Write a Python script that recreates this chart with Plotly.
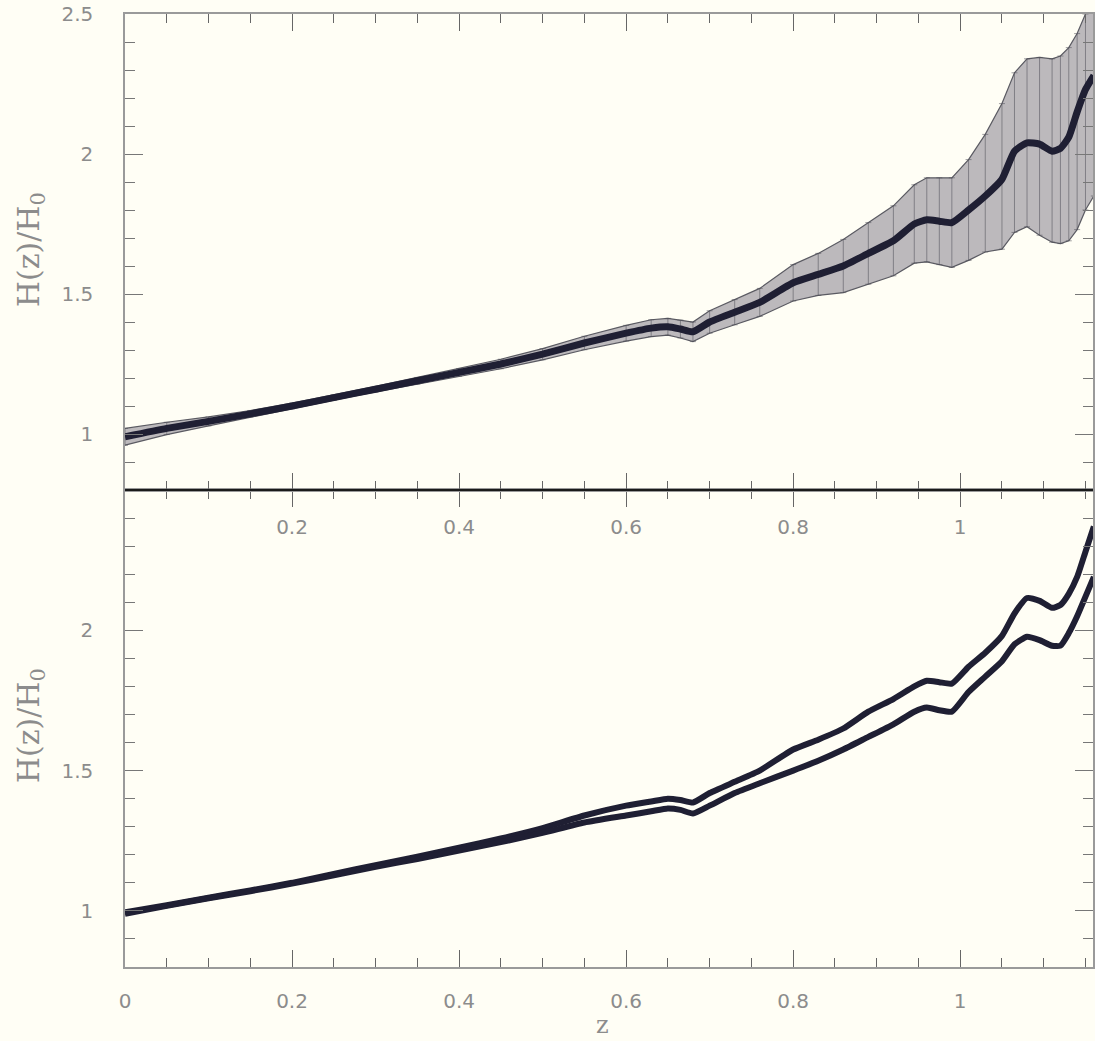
import plotly.graph_objects as go

# ---------------- data ----------------
z = [0.00, 0.05, 0.10, 0.15, 0.20, 0.25, 0.30, 0.35, 0.40, 0.45, 0.50, 0.55,
     0.60, 0.63, 0.65, 0.665, 0.68, 0.70, 0.73, 0.76, 0.80, 0.83, 0.86, 0.89,
     0.92, 0.945, 0.96, 0.975, 0.99, 1.01, 1.03, 1.05, 1.065, 1.08, 1.095,
     1.11, 1.12, 1.13, 1.14, 1.15, 1.16]

# top panel: reconstructed H(z)/H0 with error bars
h_top = [0.99, 1.02, 1.045, 1.072, 1.10, 1.13, 1.16, 1.19, 1.22, 1.25, 1.285, 1.325,
         1.36, 1.378, 1.383, 1.375, 1.365, 1.40, 1.435, 1.47, 1.54, 1.57, 1.60, 1.645,
         1.69, 1.75, 1.765, 1.76, 1.755, 1.80, 1.85, 1.91, 2.01, 2.04, 2.035,
         2.01, 2.02, 2.06, 2.15, 2.23, 2.28]
err_plus = [0.03, 0.022, 0.016, 0.012, 0.01, 0.009, 0.01, 0.012, 0.014, 0.017, 0.02, 0.024,
            0.028, 0.03, 0.03, 0.032, 0.035, 0.04, 0.045, 0.05, 0.065, 0.075, 0.095, 0.11,
            0.125, 0.14, 0.15, 0.155, 0.16, 0.18, 0.22, 0.27, 0.28, 0.30, 0.31,
            0.33, 0.33, 0.32, 0.28, 0.27, 0.28]
err_minus = [0.03, 0.022, 0.016, 0.012, 0.01, 0.009, 0.01, 0.012, 0.014, 0.017, 0.02, 0.024,
             0.028, 0.03, 0.03, 0.032, 0.035, 0.04, 0.045, 0.05, 0.065, 0.075, 0.095, 0.11,
             0.125, 0.14, 0.15, 0.155, 0.16, 0.18, 0.20, 0.25, 0.29, 0.30, 0.325,
             0.325, 0.34, 0.37, 0.42, 0.43, 0.43]

# bottom panel: two reconstructions
h_bot_a = [0.995, 1.02, 1.047, 1.073, 1.10, 1.132, 1.163, 1.193, 1.225, 1.258, 1.295, 1.34,
           1.375, 1.39, 1.40, 1.395, 1.386, 1.42, 1.46, 1.50, 1.575, 1.61, 1.65, 1.71,
           1.755, 1.80, 1.82, 1.815, 1.81, 1.87, 1.92, 1.98, 2.06, 2.115, 2.105,
           2.08, 2.09, 2.13, 2.19, 2.28, 2.37]
h_bot_b = [0.99, 1.018, 1.045, 1.07, 1.097, 1.127, 1.157, 1.185, 1.215, 1.245, 1.278, 1.315,
           1.34, 1.355, 1.365, 1.36, 1.347, 1.375, 1.42, 1.455, 1.50, 1.535, 1.575, 1.62,
           1.665, 1.71, 1.725, 1.715, 1.71, 1.78, 1.835, 1.89, 1.95, 1.977, 1.965,
           1.945, 1.945, 1.99, 2.05, 2.12, 2.19]

x_tickvals = [0, 0.2, 0.4, 0.6, 0.8, 1.0]
x_ticktext = ["0", "0.2", "0.4", "0.6", "0.8", "1"]
y_tickvals_top = [1, 1.5, 2, 2.5]
y_ticktext_top = ["1", "1.5", "2", "2.5"]
y_tickvals_bot = [1, 1.5, 2]
y_ticktext_bot = ["1", "1.5", "2"]
y_title = "H(z)/H<sub>0</sub>"
x_title = "z"

# ---------------- styling ----------------
BG = "#fffef5"
AX = "#9a9a9a"
TXT = "#8c8c8c"
CURVE = "#1f1f33"
tick_font = dict(family="DejaVu Sans", size=20, color=TXT)

upper = [h + e for h, e in zip(h_top, err_plus)]
lower = [h - e for h, e in zip(h_top, err_minus)]

fig = go.Figure()

# error band (top panel)
fig.add_trace(go.Scatter(x=z, y=lower, xaxis="x2", yaxis="y2", mode="lines",
                         line=dict(color="#5a5a62", width=1.2), showlegend=False,
                         hoverinfo="skip"))
fig.add_trace(go.Scatter(x=z, y=upper, xaxis="x2", yaxis="y2", mode="lines",
                         line=dict(color="#5a5a62", width=1.2), fill="tonexty",
                         fillcolor="rgba(165,162,168,0.75)", showlegend=False,
                         hoverinfo="skip"))
# vertical error bars
fig.add_trace(go.Scatter(x=z, y=h_top, xaxis="x2", yaxis="y2", mode="markers",
                         marker=dict(size=1, color="rgba(0,0,0,0)"),
                         error_y=dict(type="data", symmetric=False, array=err_plus,
                                      arrayminus=err_minus, color="rgba(80,80,90,0.55)",
                                      thickness=1, width=3),
                         showlegend=False, hoverinfo="skip"))
# central curve
fig.add_trace(go.Scatter(x=z, y=h_top, xaxis="x2", yaxis="y2", mode="lines",
                         line=dict(color=CURVE, width=7, shape="spline", smoothing=0.5),
                         showlegend=False))

# bottom panel curves
fig.add_trace(go.Scatter(x=z, y=h_bot_a, xaxis="x", yaxis="y", mode="lines",
                         line=dict(color=CURVE, width=6, shape="spline", smoothing=0.5),
                         showlegend=False))
fig.add_trace(go.Scatter(x=z, y=h_bot_b, xaxis="x", yaxis="y", mode="lines",
                         line=dict(color=CURVE, width=6, shape="spline", smoothing=0.5),
                         showlegend=False))

split = 477 / 953

common_x = dict(range=[0, 1.159], showgrid=False, zeroline=False, showline=True,
                linecolor=AX, linewidth=1.5, ticks="inside", tickcolor="#666",
                tickwidth=1.2, ticklen=17, mirror="ticks",
                minor=dict(dtick=0.05, tick0=0, ticks="inside", ticklen=9,
                           tickcolor="#666", tickwidth=1.2),
                tickfont=tick_font)
common_y = dict(range=[0.8, 2.5], showgrid=False, zeroline=False, showline=True,
                linecolor=AX, linewidth=1.5, ticks="inside", tickcolor="#777",
                tickwidth=1.2, ticklen=18, mirror="ticks",
                minor=dict(dtick=0.1, tick0=0, ticks="inside", ticklen=10,
                           tickcolor="#777", tickwidth=1.2),
                tickfont=tick_font, ticklabelstandoff=26)

fig.update_layout(
    width=1095, height=1041,
    margin=dict(l=125, r=0, t=14, b=74),
    paper_bgcolor=BG, plot_bgcolor=BG,
    showlegend=False,
    xaxis=dict(domain=[0, 1], anchor="y", tickvals=x_tickvals, ticktext=x_ticktext,
               ticklabelstandoff=15, **common_x),
    yaxis=dict(domain=[0, split], anchor="x", tickvals=y_tickvals_bot,
               ticktext=y_ticktext_bot, **common_y),
    xaxis2=dict(domain=[0, 1], anchor="y2", matches="x", tickvals=x_tickvals[1:],
                ticktext=x_ticktext[1:], ticklabelstandoff=18, **common_x),
    yaxis2=dict(domain=[split, 1], anchor="x2", tickvals=y_tickvals_top,
                ticktext=y_ticktext_top, **common_y),
    shapes=[dict(type="line", xref="paper", yref="paper", x0=0, x1=1, y0=split, y1=split,
                 line=dict(color="#1a1a1a", width=2.2), layer="above")],
    annotations=[
        dict(text=y_title, xref="paper", yref="paper", x=-0.098, y=(1041 - 74 - 250) / 953,
             textangle=-90, showarrow=False, xanchor="center", yanchor="middle",
             font=dict(family="DejaVu Serif", size=30, color=TXT)),
        dict(text=y_title, xref="paper", yref="paper", x=-0.098, y=(967 - 726) / 953,
             textangle=-90, showarrow=False, xanchor="center", yanchor="middle",
             font=dict(family="DejaVu Serif", size=30, color=TXT)),
        dict(text=x_title, xref="paper", yref="paper", x=(603 - 125) / 970, y=(967 - 1025) / 953,
             showarrow=False, xanchor="center", yanchor="middle",
             font=dict(family="DejaVu Serif", size=24, color=TXT)),
    ],
)

fig.write_html("out.html")
